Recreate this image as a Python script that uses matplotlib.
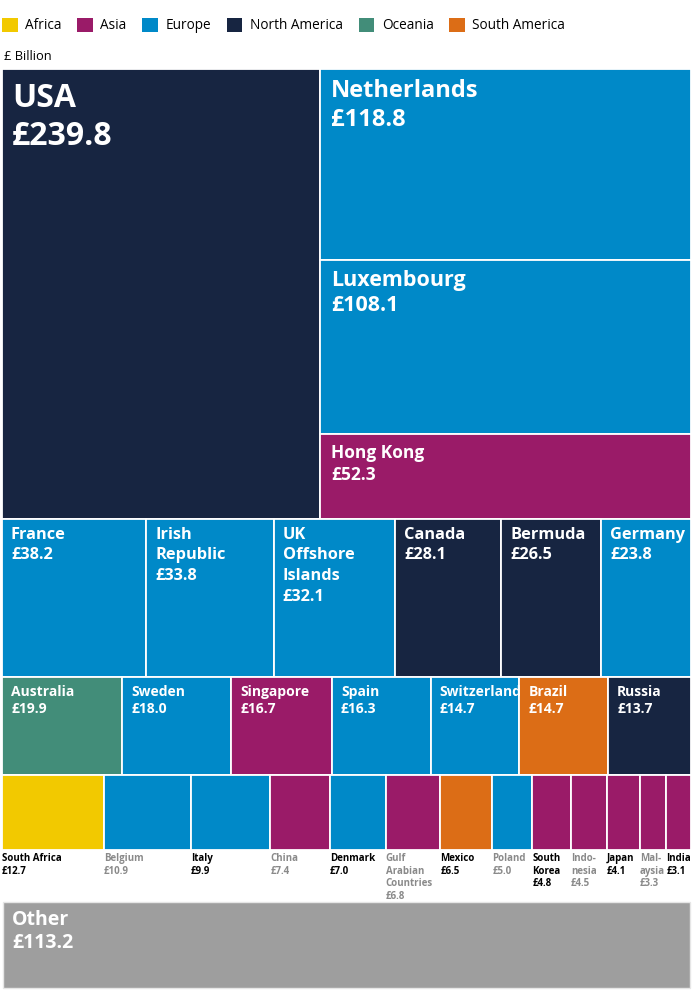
import matplotlib.pyplot as plt
from matplotlib.patches import Rectangle

plt.rcParams['font.family'] = ['Open Sans', 'DejaVu Sans']

regions = ['Africa', 'Asia', 'Europe', 'North America', 'Oceania', 'South America']
region_colors = ['#f2c900', '#9a1b68', '#0089c8', '#172541', '#428d79', '#dc6d16']

# top block: big one on the left, rest stacked on the right
top_names = ['USA', 'Netherlands', 'Luxembourg', 'Hong Kong']
top_values = [239.8, 118.8, 108.1, 52.3]
top_regions = ['North America', 'Europe', 'Europe', 'Asia']

row2_names = ['France', 'Irish\nRepublic', 'UK\nOffshore\nIslands', 'Canada', 'Bermuda', 'Germany']
row2_values = [38.2, 33.8, 32.1, 28.1, 26.5, 23.8]
row2_regions = ['Europe', 'Europe', 'Europe', 'North America', 'North America', 'Europe']

row3_names = ['Australia', 'Sweden', 'Singapore', 'Spain', 'Switzerland', 'Brazil', 'Russia']
row3_values = [19.9, 18.0, 16.7, 16.3, 14.7, 14.7, 13.7]
row3_regions = ['Oceania', 'Europe', 'Asia', 'Europe', 'Europe', 'South America', 'North America']

row4_names = ['South Africa', 'Belgium', 'Italy', 'China', 'Denmark', 'Gulf\nArabian\nCountries',
              'Mexico', 'Poland', 'South\nKorea', 'Indo-\nnesia', 'Japan', 'Mal-\naysia', 'India']
row4_values = [12.7, 10.9, 9.9, 7.4, 7.0, 6.8, 6.5, 5.0, 4.8, 4.5, 4.1, 3.3, 3.1]
row4_regions = ['Africa', 'Europe', 'Europe', 'Asia', 'Europe', 'Asia',
                'South America', 'Europe', 'Asia', 'Asia', 'Asia', 'Asia', 'Asia']

other_name = 'Other'
other_value = 113.2

color_of = dict(zip(regions, region_colors))

fig = plt.figure(figsize=(7, 9.93), dpi=100)
ax = fig.add_axes([0, 0, 1, 1])
ax.set_xlim(0, 700)
ax.set_ylim(993, 0)
ax.axis('off')

X0, X1, Y0, Y1 = 2, 691, 69, 850
W = X1 - X0
H = Y1 - Y0
total = sum(top_values) + sum(row2_values) + sum(row3_values) + sum(row4_values)


def cell(x, y, w, h, color):
    ax.add_patch(Rectangle((x, y), w, h, facecolor=color, edgecolor='white', linewidth=1.3))


def label(x, y, text, size, spacing=1.2, color='white'):
    ax.text(x, y, text, fontsize=size, fontweight='bold', color=color,
            va='top', ha='left', linespacing=spacing)


# top block
top_h = sum(top_values) / total * H
big_w = top_values[0] / sum(top_values) * W
cell(X0, Y0, big_w, top_h, color_of[top_regions[0]])
label(X0 + 10, Y0 + 13, f'{top_names[0]}\n£{top_values[0]}', 23)
rest = sum(top_values[1:])
y = Y0
sizes = [17, 15.5, 12.5]
for name, v, r, s in zip(top_names[1:], top_values[1:], top_regions[1:], sizes):
    h = v / rest * top_h
    cell(X0 + big_w, y, W - big_w, h, color_of[r])
    label(X0 + big_w + 11, y + 10, f'{name}\n£{v}', s, 1.25)
    y += h

# rows under the top block
y = Y0 + top_h
for names, values, regs, size, sp in [(row2_names, row2_values, row2_regions, 11.8, 1.4),
                                      (row3_names, row3_values, row3_regions, 10, 1.3)]:
    row_h = sum(values) / total * H
    x = X0
    for name, v, r in zip(names, values, regs):
        w = v / sum(values) * W
        cell(x, y, w, row_h, color_of[r])
        label(x + 9, y + 8, f'{name}\n£{v}', size, sp)
        x += w
    y += row_h

# smallest row, labels sit under the cells
row_h = sum(row4_values) / total * H
x = X0
for i, (name, v, r) in enumerate(zip(row4_names, row4_values, row4_regions)):
    w = v / sum(row4_values) * W
    cell(x, y, w, row_h, color_of[r])
    c = 'black' if i % 2 == 0 else '#8a8a8a'
    ax.text(x, y + row_h + 3, f'{name}\n£{v}', fontsize=7, fontweight='bold', color=c,
            va='top', ha='left', linespacing=1.2)
    x += w

# other, separate box
ax.add_patch(Rectangle((3, 902), 687, 86, facecolor='#9e9e9e', edgecolor='#e6e6e6', linewidth=1))
label(12, 910, f'{other_name}\n£{other_value}', 14)

# legend and unit
handles = [Rectangle((0, 0), 1, 1, facecolor=c) for c in region_colors]
fig.legend(handles, regions, loc='upper left', bbox_to_anchor=(2 / 700, 1 - 18 / 993), ncol=6,
           frameon=False, fontsize=9.8, handlelength=1.15, handleheight=1.15, borderpad=0,
           borderaxespad=0, handletextpad=0.55, columnspacing=1.15)
ax.text(4, 57, '£ Billion', fontsize=9.3, va='center', ha='left')

fig.savefig('out.png', dpi=100)
